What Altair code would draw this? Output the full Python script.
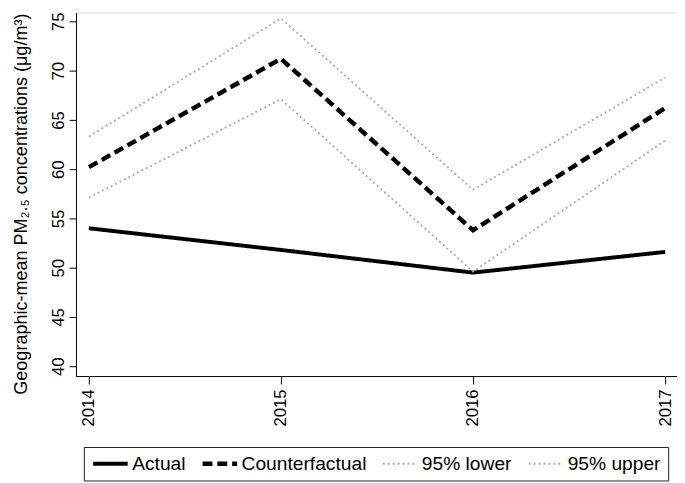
import altair as alt
import pandas as pd

years = [2014, 2015, 2016, 2017]
actual = [54.0, 51.8, 49.5, 51.6]
counterfactual = [60.2, 71.2, 53.8, 66.2]
lower95 = [57.1, 67.1, 49.6, 62.9]
upper95 = [63.3, 75.3, 57.9, 69.3]

series_names = ["Actual", "Counterfactual", "95% lower", "95% upper"]
series_values = [actual, counterfactual, lower95, upper95]
y_ticks = [40, 45, 50, 55, 60, 65, 70, 75]

rows = []
for name, vals in zip(series_names, series_values):
    for y, v in zip(years, vals):
        rows.append({"year": y, "value": v, "series": name})
df = pd.DataFrame(rows)

FONT = "Liberation Sans"

legend = alt.Legend(
    title=None, orient="none", legendX=8, legendY=441,
    direction="horizontal", columns=4, symbolType="stroke",
    symbolSize=1225, clipHeight=20,
    labelFontSize=19.5, labelFont=FONT, labelColor="black",
    strokeColor="#222222", padding=7, columnPadding=14, labelOffset=2,
    symbolOpacity=1,
)

chart = alt.Chart(df).mark_line(strokeCap="butt", strokeJoin="miter").encode(
    x=alt.X("year:Q", scale=alt.Scale(domain=[2013.933, 2017.0615], nice=False, zero=False),
            axis=alt.Axis(values=years, format="d", title=None, labelAngle=270,
                          labelFontSize=17, labelFont=FONT, labelColor="black",
                          tickSize=8, tickColor="black", domainColor="black",
                          labelPadding=5, grid=False)),
    y=alt.Y("value:Q", scale=alt.Scale(domain=[39.0, 75.9], nice=False, zero=False),
            axis=alt.Axis(values=y_ticks, title="Geographic-mean PM₂.₅ concentrations (μg/m³)",
                          labelAngle=270, labelAlign="center", labelBaseline="alphabetic",
                          labelFontSize=17, labelFont=FONT, labelColor="black",
                          tickSize=7, tickColor="black", domainColor="black",
                          labelPadding=6, grid=False,
                          titleFontSize=18.3, titleFont=FONT, titleFontWeight="normal",
                          titleColor="black", titleX=-55, titleY=194, titleAngle=270,
                          titleAlign="center", titleBaseline="middle")),
    color=alt.Color("series:N", scale=alt.Scale(domain=series_names,
                    range=["black", "black", "#aaaaaa", "#aaaaaa"]), legend=legend),
    strokeDash=alt.StrokeDash("series:N", scale=alt.Scale(domain=series_names,
                    range=[[1, 0], [10, 5], [2, 3], [2, 3]]), legend=legend),
    strokeWidth=alt.StrokeWidth("series:N", scale=alt.Scale(type="ordinal", domain=series_names,
                    range=[4, 4.5, 1.8, 1.8]), legend=legend),
).properties(
    width=610, height=369, padding={"left": 3, "top": 0, "right": 0, "bottom": 0}
).configure_view(stroke=None).configure(background="white")

chart.save("out.html", embed_options={"renderer": "svg", "actions": False})
